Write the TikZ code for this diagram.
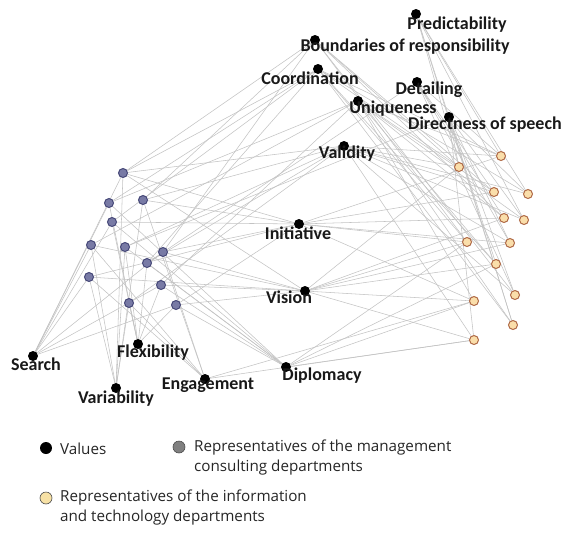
\documentclass[tikz,border=0pt]{standalone}
\usepackage{fontspec}
\setmainfont{Carlito}
\newfontfamily\legendfont{Open Sans}
\pgfdeclarelayer{background}
\pgfsetlayers{background,main}
\definecolor{edgegray}{RGB}{195,195,195}
\definecolor{bluefill}{RGB}{120,122,165}
\definecolor{blueline}{RGB}{70,72,120}
\definecolor{orfill}{RGB}{250,222,170}
\definecolor{orline}{RGB}{175,105,70}
\definecolor{leggray}{RGB}{128,128,128}
\definecolor{legbeige}{RGB}{247,225,165}
\tikzset{
  valdot/.style={circle,fill=black,inner sep=0pt,minimum size=10pt},
  vallabel/.style={font=\fontsize{18}{18}\selectfont\bfseries,inner sep=0pt,text=black!90},
  mgmt/.style={circle,draw=blueline,fill=bluefill,line width=1pt,inner sep=0pt,minimum size=9pt},
  itrep/.style={circle,draw=orline,fill=orfill,line width=1pt,inner sep=0pt,minimum size=9pt},
  link/.style={draw=edgegray,line width=0.55pt},
  legtext/.style={font=\legendfont\fontsize{15.2}{20}\selectfont,anchor=west,align=left,inner sep=0pt,text=black!85},
}
\begin{document}
\begin{tikzpicture}[x=1pt,y=-1pt]
\useasboundingbox (0,0) rectangle (571,539);
% value dots
\node[valdot] (vPred) at (416,14) {};
\node[valdot] (vBound) at (315,40) {};
\node[valdot] (vCoord) at (318,69) {};
\node[valdot] (vDet) at (417,82) {};
\node[valdot] (vUniq) at (358,101) {};
\node[valdot] (vDir) at (449,117) {};
\node[valdot] (vVal) at (344,146) {};
\node[valdot] (vInit) at (299,224) {};
\node[valdot] (vVis) at (305,291) {};
\node[valdot] (vDipl) at (286,367) {};
\node[valdot] (vSearch) at (33,356) {};
\node[valdot] (vFlex) at (138,344) {};
\node[valdot] (vEng) at (205,379) {};
\node[valdot] (vVar) at (116,388) {};
% labels
\node[vallabel] (lPred) at (457,25) {Predictability};
\node[vallabel] (lBound) at (405,47) {Boundaries of responsibility};
\node[vallabel] (lCoord) at (310,78) {Coordination};
\node[vallabel] (lDet) at (429,90) {Detailing};
\node[vallabel] (lUniq) at (393,109) {Uniqueness};
\node[vallabel] (lDir) at (485,125) {Directness of speech};
\node[vallabel] (lVal) at (347,154) {Validity};
\node[vallabel] (lInit) at (298,233) {Initiative};
\node[vallabel] (lVis) at (289,297) {Vision};
\node[vallabel] (lDipl) at (322,376) {Diplomacy};
\node[vallabel] (lSearch) at (36,364) {Search};
\node[vallabel] (lFlex) at (153,353) {Flexibility};
\node[vallabel] (lEng) at (208,385) {Engagement};
\node[vallabel] (lVar) at (116,399) {Variability};
% management consulting representatives
\node[mgmt] (b1) at (123,173) {};
\node[mgmt] (b2) at (109,203) {};
\node[mgmt] (b3) at (143,200) {};
\node[mgmt] (b4) at (112,222) {};
\node[mgmt] (b5) at (91,245) {};
\node[mgmt] (b6) at (125,247) {};
\node[mgmt] (b7) at (163,252) {};
\node[mgmt] (b8) at (147,263) {};
\node[mgmt] (b9) at (89,277) {};
\node[mgmt] (b10) at (161,285) {};
\node[mgmt] (b11) at (129,303) {};
\node[mgmt] (b12) at (176,305) {};
% IT representatives
\node[itrep] (o1) at (501,156) {};
\node[itrep] (o2) at (459,167) {};
\node[itrep] (o3) at (494,192) {};
\node[itrep] (o4) at (528,194) {};
\node[itrep] (o5) at (504,218) {};
\node[itrep] (o6) at (524,220) {};
\node[itrep] (o7) at (467,242) {};
\node[itrep] (o8) at (510,243) {};
\node[itrep] (o9) at (496,264) {};
\node[itrep] (o10) at (515,295) {};
\node[itrep] (o11) at (474,301) {};
\node[itrep] (o12) at (513,325) {};
\node[itrep] (o13) at (474,340) {};
% edges
\begin{pgfonlayer}{background}
\foreach \a/\b in {
 b1/vSearch,b1/vVar,b1/vCoord,b1/vBound,b1/vInit,b1/vVis,b1/vVal,
 b2/vSearch,b2/vFlex,b2/vCoord,b2/vUniq,b2/vDipl,
 b3/vVar,b3/vInit,b3/vVal,b3/vBound,b3/vEng,
 b4/vSearch,b4/vFlex,b4/vInit,b4/vCoord,b4/vDipl,
 b5/vSearch,b5/vVar,b5/vVis,b5/vUniq,b5/vEng,
 b6/vFlex,b6/vVar,b6/vVal,b6/vDir,b6/vDipl,
 b7/vInit,b7/vVis,b7/vSearch,b7/vBound,b7/vEng,
 b8/vFlex,b8/vCoord,b8/vVal,b8/vDet,b8/vDipl,
 b9/vSearch,b9/vVar,b9/vInit,b9/vVis,b9/vEng,
 b10/vVis,b10/vFlex,b10/vUniq,b10/vDipl,b10/vSearch,
 b11/vVar,b11/vFlex,b11/vVal,b11/vEng,
 b12/vVis,b12/vDipl,b12/vSearch,b12/vInit,b12/vFlex,
 o1/vPred,o1/vUniq,o1/vCoord,o1/vVal,o1/vInit,o1/vDet,
 o2/vPred,o2/vBound,o2/vDir,o2/vVis,o2/vVal,o2/vCoord,
 o3/vDet,o3/vUniq,o3/vVal,o3/vBound,o3/vInit,
 o4/vDir,o4/vPred,o4/vCoord,o4/vVal,
 o5/vDet,o5/vUniq,o5/vVis,o5/vBound,o5/vInit,
 o6/vDir,o6/vPred,o6/vUniq,o6/vVal,
 o7/vCoord,o7/vBound,o7/vInit,o7/vVis,o7/vDipl,
 o8/vDet,o8/vDir,o8/vVal,o8/vVis,o8/vInit,
 o9/vPred,o9/vUniq,o9/vCoord,o9/vVis,o9/vDipl,
 o10/vDir,o10/vDet,o10/vBound,o10/vVal,
 o11/vUniq,o11/vVis,o11/vInit,o11/vEng,o11/vDipl,
 o12/vPred,o12/vDir,o12/vUniq,o12/vCoord,
 o13/vDir,o13/vEng,o13/vDipl,o13/vVis,o13/vVal}
 \draw[link] (\a) -- (\b);
\end{pgfonlayer}
% legend
\node[circle,fill=black,inner sep=0pt,minimum size=12pt] (kVal) at (46,448) {};
\node[legtext] (tVal) at (60,449) {Values};
\node[circle,draw=black!70,fill=leggray,line width=0.6pt,inner sep=0pt,minimum size=12pt] (kMgmt) at (179,447) {};
\node[legtext,anchor=north west] (tMgmt) at (194,440) {Representatives of the management\\consulting departments};
\node[circle,draw=black!70,fill=legbeige,line width=0.6pt,inner sep=0pt,minimum size=12pt] (kIT) at (46,498) {};
\node[legtext,anchor=north west] (tIT) at (60,490) {Representatives of the information\\and technology departments};
\end{tikzpicture}
\end{document}
